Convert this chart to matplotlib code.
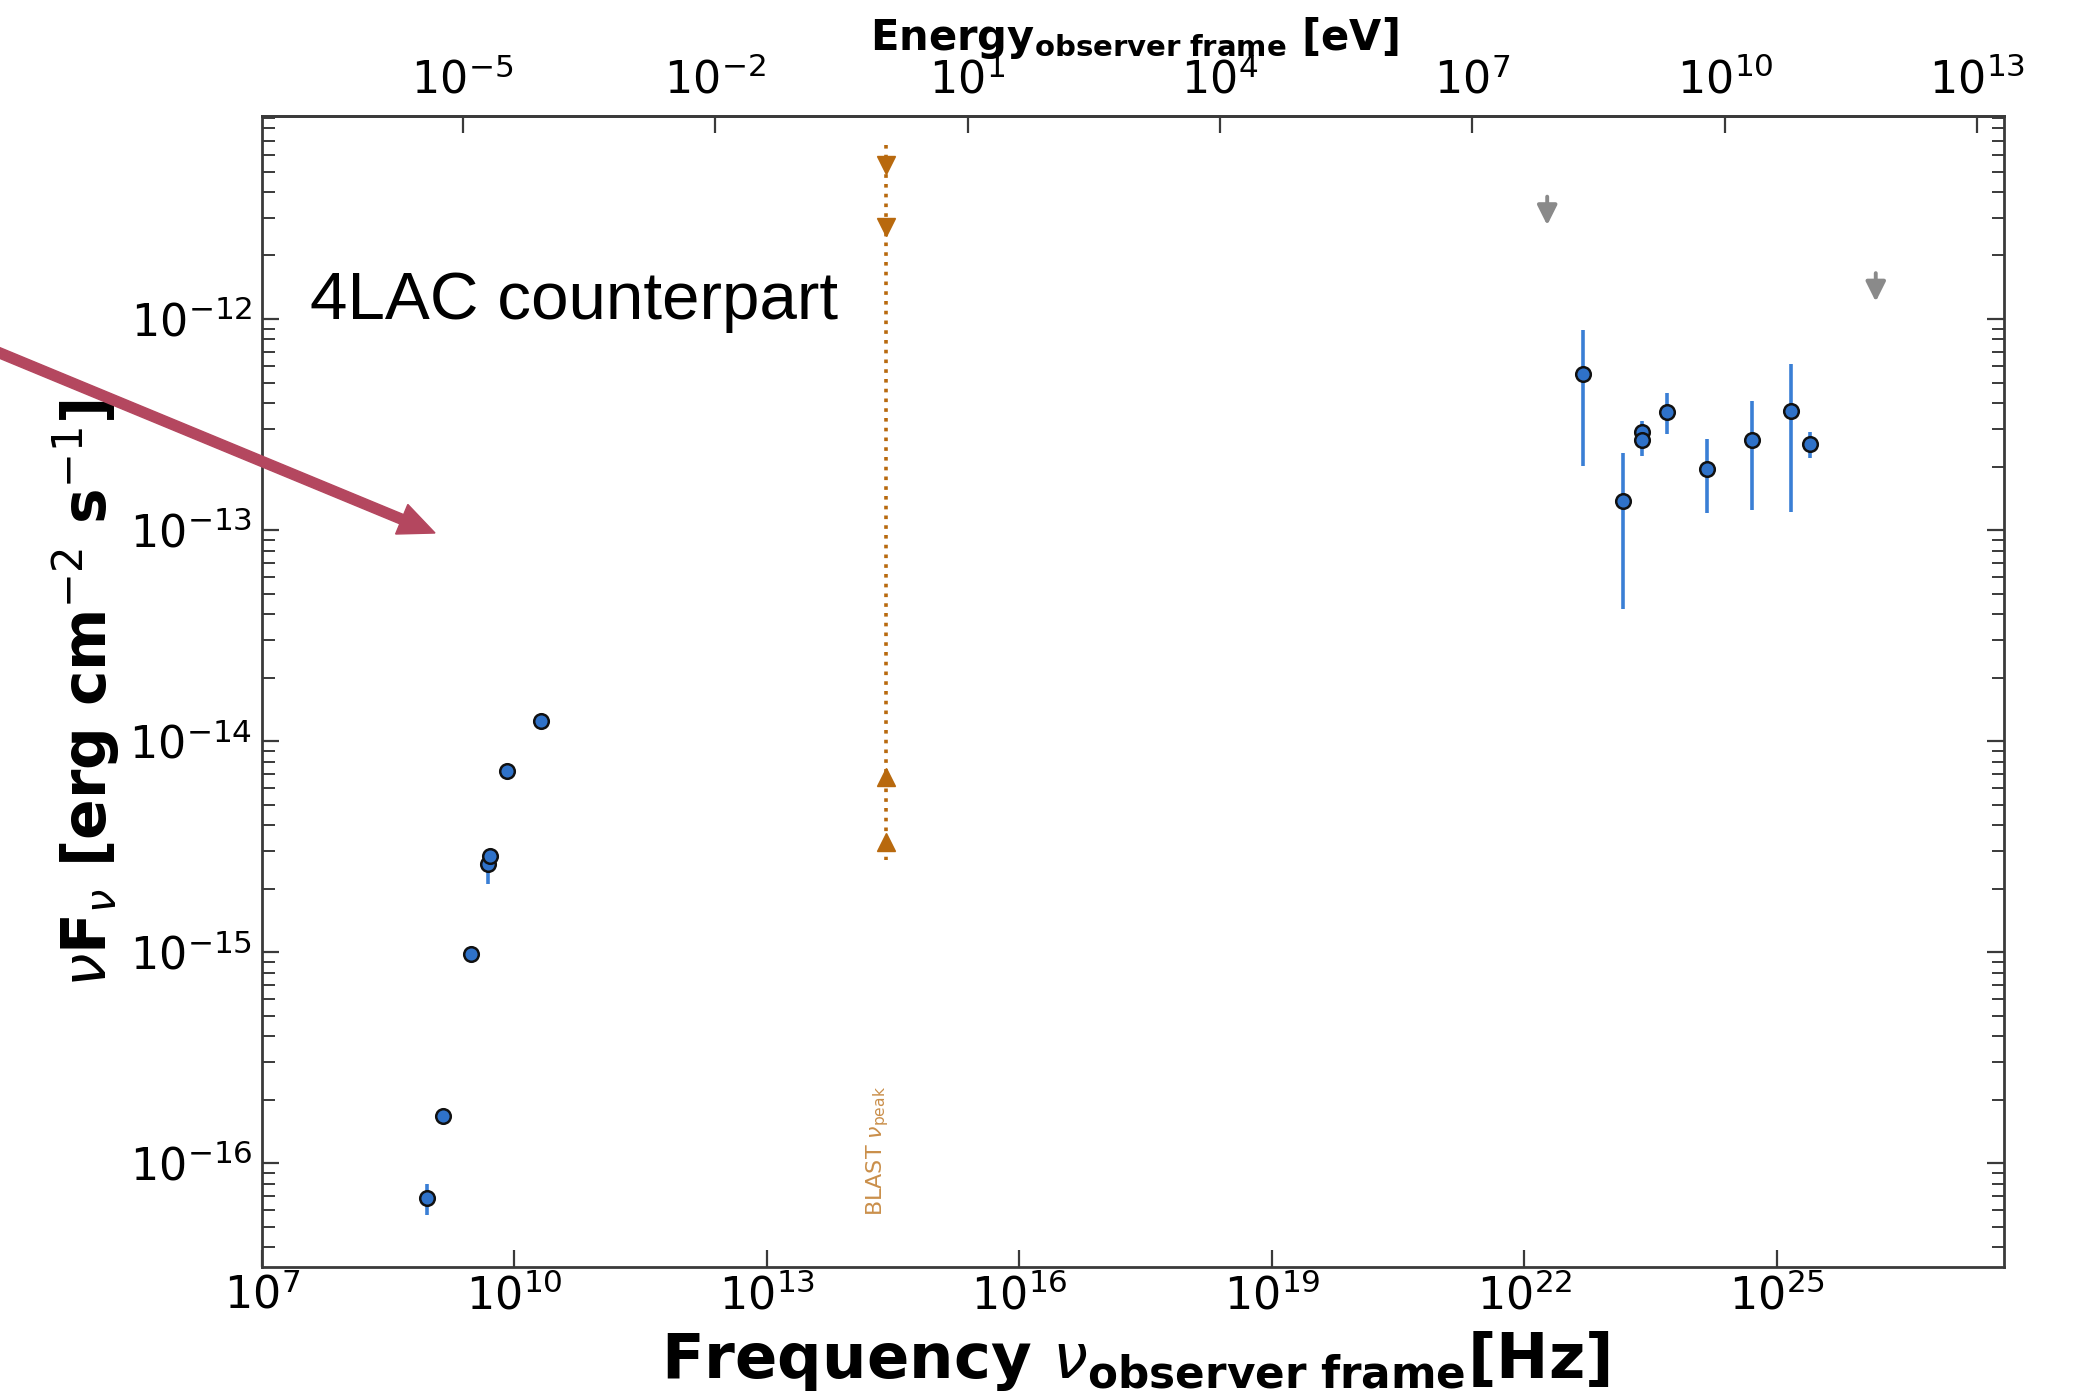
import numpy as np
import matplotlib
matplotlib.use('Agg')
import matplotlib.pyplot as plt
from matplotlib.ticker import FixedLocator, NullLocator, LogFormatterMathtext
from matplotlib.patches import FancyArrow
from matplotlib.transforms import IdentityTransform, blended_transform_factory, offset_copy

# ---------------- data ----------------
radio_nu = [9.08e8, 1.42e9, 3.05e9, 4.79e9, 5.14e9, 8.09e9, 2.07e10]
radio_f = [6.84e-17, 1.68e-16, 9.84e-16, 2.63e-15, 2.87e-15, 7.21e-15, 1.25e-14]
radio_hi = [7.98e-17, 1.68e-16, 9.84e-16, 3.08e-15, 2.87e-15, 7.21e-15, 1.25e-14]
radio_lo = [5.71e-17, 1.68e-16, 9.84e-16, 2.10e-15, 2.87e-15, 7.21e-15, 1.25e-14]

gam_nu = [5.01e22, 1.50e23, 2.48e23, 2.48e23, 5.00e23, 1.49e24, 5.02e24, 1.47e25, 2.48e25]
gam_f = [5.47e-13, 1.38e-13, 2.90e-13, 2.67e-13, 3.64e-13, 1.95e-13, 2.67e-13, 3.66e-13, 2.56e-13]
gam_hi = [8.87e-13, 2.33e-13, 3.29e-13, 3.02e-13, 4.45e-13, 2.69e-13, 4.10e-13, 6.12e-13, 2.92e-13]
gam_lo = [2.01e-13, 4.24e-14, 2.51e-13, 2.24e-13, 2.85e-13, 1.20e-13, 1.24e-13, 1.22e-13, 2.20e-13]

ul_nu = [1.87e22, 1.50e26]
ul_f = [3.80e-12, 1.65e-12]

blast_nu_peak = 2.57e14
blast_down = [5.37e-12, 2.74e-12]
blast_up = [6.78e-15, 3.33e-15]
blast_range = [6.68e-12, 2.74e-15]

xticks_hz = [1e7, 1e10, 1e13, 1e16, 1e19, 1e22, 1e25]
xticks_ev = [1e-5, 1e-2, 1e1, 1e4, 1e7, 1e10, 1e13]
yticks = [1e-16, 1e-15, 1e-14, 1e-13, 1e-12]
h_ev = 4.135667e-15

# ---------------- figure ----------------
W, H = 2084, 1395
fig = plt.figure(figsize=(W / 100, H / 100), dpi=100)
fig.patch.set_facecolor('white')
ax = fig.add_axes([262 / W, 1 - 1267 / H, (2004 - 262) / W, (1267 - 116) / H])

ax.set_xscale('log')
ax.set_yscale('log')
ymin, ymax = 10 ** -16.492, 10 ** -11.038
ax.set_xlim(1e7, 10 ** 27.70)
ax.set_ylim(ymin, ymax)

blue_face = '#2f72c9'
blue_err = '#3a7fd5'
orange = '#b8690e'

r = np.array(radio_f)
ax.errorbar(radio_nu, r, yerr=[r - np.array(radio_lo), np.array(radio_hi) - r],
            fmt='o', ms=10.5, mfc=blue_face, mec='#111111', mew=1.8,
            ecolor=blue_err, elinewidth=2.6, capsize=0, zorder=3)
g = np.array(gam_f)
ax.errorbar(gam_nu, g, yerr=[g - np.array(gam_lo), np.array(gam_hi) - g],
            fmt='o', ms=10.5, mfc=blue_face, mec='#111111', mew=1.8,
            ecolor=blue_err, elinewidth=2.6, capsize=0, zorder=3)

for nu, f in zip(ul_nu, ul_f):
    ax.annotate('', xy=(nu, f * 10 ** -0.135), xytext=(nu, f),
                arrowprops=dict(arrowstyle='-|>', color='#8a8a8a', lw=2.8,
                                mutation_scale=30, shrinkA=0, shrinkB=0))

ax.plot([blast_nu_peak] * 2, blast_range, ls=(0, (1, 1.7)), lw=2.6, color=orange, zorder=2)
ax.plot([blast_nu_peak] * 2, blast_down, 'v', ms=13, color=orange, zorder=3)
ax.plot([blast_nu_peak] * 2, blast_up, '^', ms=13, color=orange, zorder=3)

btrans = offset_copy(blended_transform_factory(ax.transData, ax.transAxes), fig=fig,
                     x=-8, y=0, units='dots')
ax.text(blast_nu_peak, 0.0443, r'BLAST $\nu_{\rm peak}$', rotation=90, ha='center',
        va='bottom', transform=btrans, fontsize=16, color=orange, alpha=0.75)

# ticks
spine_c = '#3a3a3a'
for s in ax.spines.values():
    s.set_linewidth(2.0)
    s.set_color(spine_c)
ax.xaxis.set_major_locator(FixedLocator(xticks_hz))
ax.xaxis.set_major_formatter(LogFormatterMathtext())
ax.xaxis.set_minor_locator(NullLocator())
ax.yaxis.set_major_locator(FixedLocator(yticks))
ax.yaxis.set_major_formatter(LogFormatterMathtext())
minor_y = [m * d for d in [1e-17, 1e-16, 1e-15, 1e-14, 1e-13, 1e-12]
           for m in range(2, 10) if ymin <= m * d <= ymax]
ax.yaxis.set_minor_locator(FixedLocator(minor_y))
ax.tick_params(axis='x', which='major', direction='in', length=12, width=1.6, color=spine_c,
               labelsize=32, pad=5, top=False, bottom=True)
ax.tick_params(axis='y', which='major', direction='in', length=12, width=1.6, color=spine_c,
               labelsize=32, pad=7, left=True, right=True)
ax.tick_params(axis='y', which='minor', direction='in', length=9, width=1.4, color=spine_c,
               left=True, right=True, labelleft=False)

secax = ax.secondary_xaxis('top', functions=(lambda x: x * h_ev, lambda e: e / h_ev))
secax.xaxis.set_major_locator(FixedLocator(xticks_ev))
secax.xaxis.set_major_formatter(LogFormatterMathtext())
secax.xaxis.set_minor_locator(NullLocator())
secax.tick_params(axis='x', which='major', direction='in', length=12, width=1.6, color=spine_c,
                  labelsize=32, pad=10)
secax.spines['top'].set_linewidth(2.0)
secax.spines['top'].set_color(spine_c)

# labels
fig.text(86 / W, 1 - 693 / H, r'$\nu$F$_\nu$ [erg cm$^{-2}$ s$^{-1}$]', rotation=90,
         ha='center', va='center', fontsize=43, fontweight='bold')
fig.text(1135 / W, 1 - 1378 / H, r'Frequency $\nu_{\mathbf{observer\ frame}}$[Hz]',
         ha='center', va='baseline', fontsize=45, fontweight='bold')
fig.text(1134 / W, 1 - 50 / H, r'Energy$_{\mathbf{observer\ frame}}$ [eV]',
         ha='center', va='baseline', fontsize=30, fontweight='bold')

fig.text(310 / W, 1 - 319 / H, '4LAC counterpart', ha='left', va='baseline',
         fontsize=48.5, family='Liberation Sans', color='black')

arrow = FancyArrow(-5, H - 351, 440, (H - 533) - (H - 351), width=10, head_width=32,
                   head_length=36, length_includes_head=True, color='#b4475f',
                   transform=IdentityTransform(), zorder=10)
fig.add_artist(arrow)

fig.savefig('out.png', dpi=100, facecolor='white')
